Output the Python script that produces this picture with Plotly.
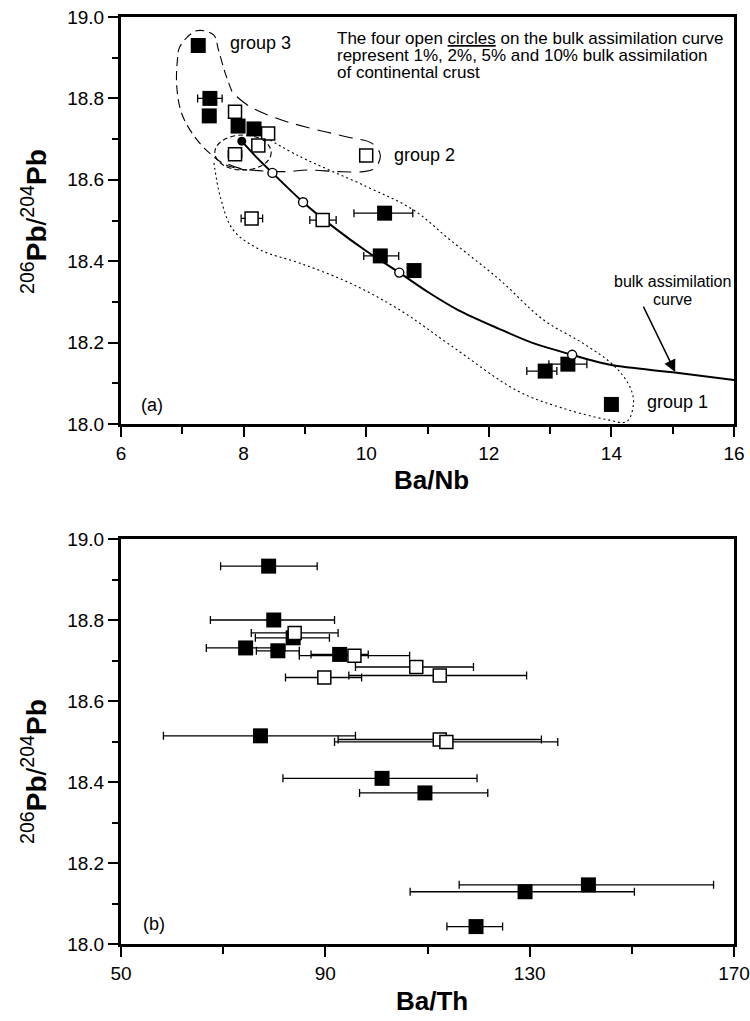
import plotly.graph_objects as go

FONT = "Liberation Sans, Arial, Helvetica, sans-serif"

# ---------------- Panel (a): 206Pb/204Pb vs Ba/Nb ----------------
a_fill_x = [7.26, 7.45, 7.44, 7.91, 8.17, 10.30, 10.23, 10.78, 12.92, 13.29, 14.00]
a_fill_y = [18.930, 18.800, 18.757, 18.732, 18.725, 18.518, 18.413, 18.377, 18.130, 18.147, 18.048]
a_fill_em = [0, 0.20, 0, 0, 0, 0.50, 0.27, 0, 0.30, 0.31, 0]
a_fill_ep = [0, 0.20, 0, 0, 0, 0.46, 0.30, 0, 0.19, 0.31, 0]

a_open_x = [7.86, 8.40, 8.24, 7.86, 10.00, 8.13, 9.29]
a_open_y = [18.767, 18.714, 18.684, 18.663, 18.660, 18.505, 18.501]
a_open_em = [0, 0, 0, 0.11, 0, 0.17, 0.21]
a_open_ep = [0, 0, 0, 0.11, 0, 0.18, 0.22]

# bulk assimilation curve and the 1%, 2%, 5%, 10% marks on it
curve_x = [7.97, 8.20, 8.47, 8.97, 9.50, 10.00, 10.54, 11.00, 11.50, 12.15, 12.70, 13.36, 14.00, 15.00, 16.00]
curve_y = [18.695, 18.657, 18.617, 18.545, 18.480, 18.425, 18.372, 18.325, 18.280, 18.235, 18.200, 18.170, 18.145, 18.127, 18.108]
start_x, start_y = [7.97], [18.695]
assim_x = [8.47, 8.97, 10.54, 13.36]
assim_y = [18.617, 18.545, 18.372, 18.170]

# group outlines
g3_x = [7.81, 7.70, 7.59, 7.51, 7.23, 6.96, 6.92, 6.91, 6.99, 7.20, 7.45, 7.72, 8.05]
g3_y = [18.817, 18.862, 18.919, 18.956, 18.966, 18.927, 18.894, 18.829, 18.763, 18.706, 18.665, 18.636, 18.624]

g2_x = [7.89, 8.10, 8.54, 9.03, 9.73, 10.09, 10.23, 10.14, 9.95, 9.56, 9.03, 8.70, 7.94, 7.70]
g2_y = [18.804, 18.780, 18.751, 18.729, 18.704, 18.690, 18.661, 18.628, 18.620, 18.620, 18.624, 18.620, 18.628, 18.642]

g1_x = [8.43, 8.92, 10.01, 10.77, 11.37, 12.18, 12.89, 13.54, 14.03, 14.30, 14.36, 14.25, 13.92,
        13.16, 12.46, 11.37, 10.55, 9.74, 8.92, 8.27, 7.83, 7.62, 7.51]
g1_y = [18.698, 18.657, 18.583, 18.526, 18.452, 18.354, 18.256, 18.198, 18.145, 18.092, 18.051, 18.006, 18.011,
        18.041, 18.082, 18.194, 18.280, 18.346, 18.395, 18.428, 18.477, 18.558, 18.649]

# small ellipse around the least-contaminated samples
ell_cx, ell_cy, ell_rx, ell_ry = 7.99, 18.667, 0.46, 0.043

# ---------------- Panel (b): 206Pb/204Pb vs Ba/Th ----------------
b_fill_x = [78.9, 79.9, 83.7, 74.4, 80.7, 92.8, 77.3, 101.1, 109.5, 141.5, 129.1, 119.5]
b_fill_y = [18.933, 18.800, 18.756, 18.731, 18.724, 18.715, 18.514, 18.409, 18.373, 18.146, 18.129, 18.043]
b_fill_em = [9.4, 12.4, 7.4, 7.7, 4.2, 5.6, 19.0, 19.4, 12.8, 25.3, 22.5, 5.7]
b_fill_ep = [9.5, 11.9, 7.1, 7.7, 4.2, 5.6, 18.6, 18.6, 12.3, 24.5, 21.4, 5.2]

b_open_x = [84.0, 95.7, 107.8, 89.8, 112.4, 112.4, 113.7]
b_open_y = [18.768, 18.712, 18.684, 18.658, 18.663, 18.505, 18.499]
b_open_em = [8.5, 10.8, 11.9, 7.6, 17.8, 19.9, 21.9]
b_open_ep = [8.5, 10.8, 11.2, 7.3, 17.0, 19.9, 21.8]

# ---------------- figure ----------------
W, H = 750, 1021
fig = go.Figure()


def err(minus, plus):
    return dict(type="data", symmetric=False, array=plus, arrayminus=minus,
                color="black", thickness=1.3, width=4)


def outline(x, y, dash, xa="x", ya="y"):
    fig.add_trace(go.Scatter(x=x, y=y, mode="lines", xaxis=xa, yaxis=ya,
                             line=dict(color="black", width=1.1, dash=dash, shape="spline", smoothing=1.0),
                             hoverinfo="skip"))


# outlines
outline(g1_x, g1_y, "2px,3px")
outline(g2_x, g2_y, "14px,8px")
outline(g3_x, g3_y, "9px,5px")
fig.add_shape(type="circle", xref="x", yref="y",
              x0=ell_cx - ell_rx, x1=ell_cx + ell_rx, y0=ell_cy - ell_ry, y1=ell_cy + ell_ry,
              line=dict(color="black", width=1.1, dash="5px,3px"))

# assimilation curve
fig.add_trace(go.Scatter(x=curve_x, y=curve_y, mode="lines",
                         line=dict(color="black", width=2, shape="spline", smoothing=0.8),
                         hoverinfo="skip"))

# panel (a) samples
fig.add_trace(go.Scatter(x=a_open_x, y=a_open_y, mode="markers",
                         marker=dict(symbol="square", size=13, color="white", line=dict(color="black", width=1.5)),
                         error_x=err(a_open_em, a_open_ep)))
fig.add_trace(go.Scatter(x=a_fill_x, y=a_fill_y, mode="markers",
                         marker=dict(symbol="square", size=15, color="black", line=dict(width=0)),
                         error_x=err(a_fill_em, a_fill_ep)))
fig.add_trace(go.Scatter(x=start_x, y=start_y, mode="markers",
                         marker=dict(symbol="circle", size=9, color="black", line=dict(width=0))))
fig.add_trace(go.Scatter(x=assim_x, y=assim_y, mode="markers",
                         marker=dict(symbol="circle", size=9, color="white", line=dict(color="black", width=1.4))))

# panel (b) samples
fig.add_trace(go.Scatter(x=b_fill_x, y=b_fill_y, mode="markers", xaxis="x2", yaxis="y2",
                         marker=dict(symbol="square", size=15, color="black", line=dict(width=0)),
                         error_x=err(b_fill_em, b_fill_ep)))
fig.add_trace(go.Scatter(x=b_open_x, y=b_open_y, mode="markers", xaxis="x2", yaxis="y2",
                         marker=dict(symbol="square", size=13, color="white", line=dict(color="black", width=1.5)),
                         error_x=err(b_open_em, b_open_ep)))

xdom = [121 / W, 734 / W]
top_dom = [1 - 424 / H, 1 - 17 / H]
bot_dom = [1 - 944 / H, 1 - 539 / H]

axis_common = dict(showline=True, linewidth=3, linecolor="black", mirror=True,
                   ticks="outside", ticklen=10, tickwidth=2, tickcolor="black",
                   showgrid=False, zeroline=False, automargin=False,
                   tickfont=dict(family=FONT, size=19, color="black"))

fig.update_layout(
    width=W, height=H,
    margin=dict(l=0, r=0, t=0, b=0),
    paper_bgcolor="white", plot_bgcolor="white",
    showlegend=False,
    font=dict(family=FONT, color="black"),
    xaxis=dict(domain=xdom, anchor="y", range=[6, 16], tickmode="linear", tick0=6, dtick=2,
               minor=dict(ticks="outside", tick0=6, dtick=1, ticklen=7, tickwidth=2, tickcolor="black"),
               **axis_common),
    yaxis=dict(domain=top_dom, anchor="x", range=[18.0, 19.0], tickmode="linear", tick0=18, dtick=0.2,
               tickformat=".1f",
               minor=dict(ticks="outside", tick0=18, dtick=0.1, ticklen=6, tickwidth=2, tickcolor="black"),
               **axis_common),
    xaxis2=dict(domain=xdom, anchor="y2", range=[50, 170], tickmode="linear", tick0=50, dtick=40,
                minor=dict(ticks="outside", tick0=50, dtick=20, ticklen=7, tickwidth=2, tickcolor="black"),
                **axis_common),
    yaxis2=dict(domain=bot_dom, anchor="x2", range=[18.0, 19.0], tickmode="linear", tick0=18, dtick=0.2,
                tickformat=".1f",
                minor=dict(ticks="outside", tick0=18, dtick=0.1, ticklen=6, tickwidth=2, tickcolor="black"),
                **axis_common),
)

ann = []


def text(x, y, s, size=17, xref="x", yref="y", xanchor="left", yanchor="middle", angle=0):
    ann.append(dict(x=x, y=y, xref=xref, yref=yref, text=s, showarrow=False,
                    xanchor=xanchor, yanchor=yanchor, textangle=angle,
                    font=dict(family=FONT, size=size, color="black")))


# panel (a) labels
text(7.75, 18.935, "group 3", size=18)
text(10.42, 18.660, "group 2", size=18)
text(14.54, 18.055, "group 1", size=18)
text(6.30, 18.047, "(a)", size=18)
text(9.49, 18.948, "The four open <span style='text-decoration:underline'>circles</span> on the bulk assimilation curve", size=17)
text(9.49, 18.906, "represent 1%, 2%, 5% and 10% bulk assimilation", size=17)
text(9.49, 18.864, "of continental crust", size=17)
text(14.99, 18.349, "bulk assimilation", size=16, xanchor="center")
text(14.99, 18.307, "curve", size=16, xanchor="center")
ann.append(dict(x=15.04, y=18.128, xref="x", yref="y", ax=14.51, ay=18.292, axref="x", ayref="y",
                text="", showarrow=True, arrowhead=2, arrowsize=1.6, arrowwidth=1.5, arrowcolor="black"))

# panel (b) label
text(54.0, 18.049, "(b)", size=18, xref="x2", yref="y2")

# axis titles
ytitle = "<sup>206</sup><b>Pb</b>/<sup>204</sup><b>Pb</b>"
text(34 / W, 1 - 222 / H, ytitle, size=28, xref="paper", yref="paper", xanchor="center", angle=-90)
text(34 / W, 1 - 772 / H, ytitle, size=28, xref="paper", yref="paper", xanchor="center", angle=-90)
text(432 / W, 1 - 480 / H, "<b>Ba/Nb</b>", size=26, xref="paper", yref="paper", xanchor="center")
text(432 / W, 1 - 1001 / H, "<b>Ba/Th</b>", size=26, xref="paper", yref="paper", xanchor="center")

fig.update_layout(annotations=ann)

fig.write_html("out.html")
